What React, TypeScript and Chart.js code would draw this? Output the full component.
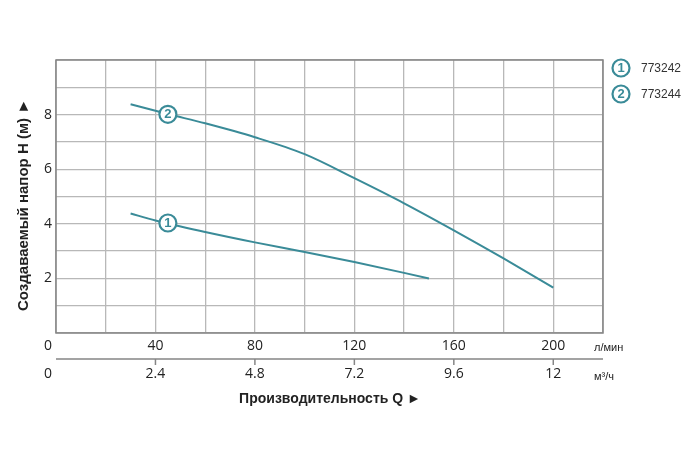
import React, { useEffect, useRef } from 'react';
import { Chart, registerables } from 'chart.js';

Chart.register(...registerables);

// Data (l/min vs head in m)
const flowCurve1 = [30, 40, 60, 80, 100, 120, 150];
const head773242 = [4.38, 4.12, 3.7, 3.32, 2.97, 2.6, 2.0];
const flowCurve2 = [30, 45, 60, 80, 100, 120, 140, 160, 180, 200];
const head773244 = [8.38, 8.02, 7.68, 7.17, 6.55, 5.67, 4.75, 3.76, 2.73, 1.66];
const markerQ = [45, 45];
const markerH = [4.03, 8.01];
const seriesNumbers = ['1', '2'];
const seriesNames = ['773242', '773244'];
const yTickLabels = [2, 4, 6, 8];
const lminTicks = [0, 40, 80, 120, 160, 200];
const m3hTicks = [0, 2.4, 4.8, 7.2, 9.6, 12];
const unitLmin = 'л/мин';
const unitM3h = 'м³/ч';
const xTitle = 'Производительность Q ►';
const yTitle = 'Создаваемый напор H (м) ►';

const TEAL = '#3a8b98';
const GRID = '#b8b8b8';
const FRAME = '#858585';
const TEXT = '#222';

function drawBadge(ctx: CanvasRenderingContext2D, x: number, y: number, r: number, label: string) {
  ctx.save();
  ctx.beginPath();
  ctx.arc(x, y, r, 0, Math.PI * 2);
  ctx.fillStyle = '#fff';
  ctx.fill();
  ctx.lineWidth = 2.2;
  ctx.strokeStyle = TEAL;
  ctx.stroke();
  ctx.fillStyle = TEAL;
  ctx.font = 'bold 13px "Liberation Sans", Arial, sans-serif';
  ctx.textAlign = 'center';
  ctx.textBaseline = 'middle';
  ctx.fillText(label, x, y + 0.5);
  ctx.restore();
}

const decorPlugin = {
  id: 'decor',
  afterDraw(chart: any) {
    const ctx: CanvasRenderingContext2D = chart.ctx;
    const xs = chart.scales.x;
    const ys = chart.scales.y;
    const area = chart.chartArea;
    ctx.save();
    // frame
    ctx.strokeStyle = FRAME;
    ctx.lineWidth = 1.5;
    ctx.strokeRect(area.left, area.top, area.right - area.left, area.bottom - area.top);

    // marker badges
    for (let i = 0; i < markerQ.length; i++) {
      drawBadge(ctx, xs.getPixelForValue(markerQ[i]), ys.getPixelForValue(markerH[i]), 8.5, seriesNumbers[i]);
    }

    // y tick labels
    ctx.fillStyle = TEXT;
    ctx.font = '14px "Open Sans", sans-serif';
    ctx.textAlign = 'center';
    ctx.textBaseline = 'middle';
    for (const v of yTickLabels) {
      ctx.fillText(String(v), area.left - 8, ys.getPixelForValue(v));
    }

    // x row 1 (l/min)
    const row1 = area.bottom + 13;
    for (const v of lminTicks) {
      const px = v === 0 ? area.left - 8 : xs.getPixelForValue(v);
      ctx.fillText(String(v), px, row1);
    }
    ctx.font = '11px "Liberation Sans", Arial, sans-serif';
    ctx.textAlign = 'left';
    ctx.fillText(unitLmin, area.right - 9, row1 + 2);

    // second axis line
    const line2 = area.bottom + 26;
    ctx.strokeStyle = FRAME;
    ctx.lineWidth = 1.5;
    ctx.beginPath();
    ctx.moveTo(area.left, line2);
    ctx.lineTo(area.right, line2);
    ctx.stroke();
    for (const v of m3hTicks) {
      if (v === 0) continue;
      const px = xs.getPixelForValue((v * 1000) / 60);
      ctx.beginPath();
      ctx.moveTo(px, line2);
      ctx.lineTo(px, line2 + 6);
      ctx.stroke();
    }
    // x row 2 (m3/h)
    ctx.font = '14px "Open Sans", sans-serif';
    ctx.textAlign = 'center';
    const row2 = area.bottom + 41;
    for (const v of m3hTicks) {
      const px = v === 0 ? area.left - 8 : xs.getPixelForValue((v * 1000) / 60);
      ctx.fillText(String(v), px, row2);
    }
    ctx.font = '11px "Liberation Sans", Arial, sans-serif';
    ctx.textAlign = 'left';
    ctx.fillText(unitM3h, area.right - 9, row2 + 3);

    // x title
    ctx.font = 'bold 14px "Liberation Sans", Arial, sans-serif';
    ctx.textAlign = 'center';
    ctx.fillText(xTitle, 330, area.bottom + 66);

    // y title
    ctx.save();
    ctx.translate(24, 205);
    ctx.rotate(-Math.PI / 2);
    ctx.font = 'bold 15px "Liberation Sans", Arial, sans-serif';
    ctx.textAlign = 'center';
    ctx.textBaseline = 'middle';
    ctx.fillText(yTitle, 0, 0);
    ctx.restore();

    // legend
    for (let i = 0; i < seriesNames.length; i++) {
      const ly = 68 + i * 26;
      drawBadge(ctx, 621, ly, 8.5, seriesNumbers[i]);
      ctx.fillStyle = '#333';
      ctx.font = '12px "Liberation Sans", Arial, sans-serif';
      ctx.textAlign = 'left';
      ctx.textBaseline = 'middle';
      ctx.fillText(seriesNames[i], 641, ly + 1);
    }
    ctx.restore();
  },
};

export default function App() {
  const ref = useRef<HTMLCanvasElement | null>(null);
  useEffect(() => {
    document.body.style.margin = '0';
    const canvas = ref.current;
    if (!canvas) return;
    const chart = new Chart(canvas, {
      type: 'line',
      data: {
        datasets: [
          {
            label: seriesNames[0],
            data: flowCurve1.map((q, i) => ({ x: q, y: head773242[i] })),
            borderColor: TEAL,
            borderWidth: 2,
            pointRadius: 0,
            cubicInterpolationMode: 'monotone',
          },
          {
            label: seriesNames[1],
            data: flowCurve2.map((q, i) => ({ x: q, y: head773244[i] })),
            borderColor: TEAL,
            borderWidth: 2,
            pointRadius: 0,
            cubicInterpolationMode: 'monotone',
          },
        ],
      },
      options: {
        animation: false,
        responsive: false,
        maintainAspectRatio: false,
        layout: { padding: { left: 56, top: 60, right: 97, bottom: 128 } },
        plugins: { legend: { display: false }, tooltip: { enabled: false } },
        scales: {
          x: {
            type: 'linear',
            min: 0,
            max: 220,
            ticks: { display: false, stepSize: 20 },
            grid: { color: GRID, lineWidth: 1.3, drawTicks: false },
            border: { display: false },
            afterFit: (s: any) => { s.height = 0; },
          },
          y: {
            type: 'linear',
            min: 0,
            max: 10,
            ticks: { display: false, stepSize: 1 },
            grid: { color: GRID, lineWidth: 1.3, drawTicks: false },
            border: { display: false },
            afterFit: (s: any) => { s.width = 0; },
          },
        },
      } as any,
      plugins: [decorPlugin],
    });
    return () => chart.destroy();
  }, []);
  return <canvas ref={ref} width={700} height={461} style={{ display: 'block' }} />;
}
